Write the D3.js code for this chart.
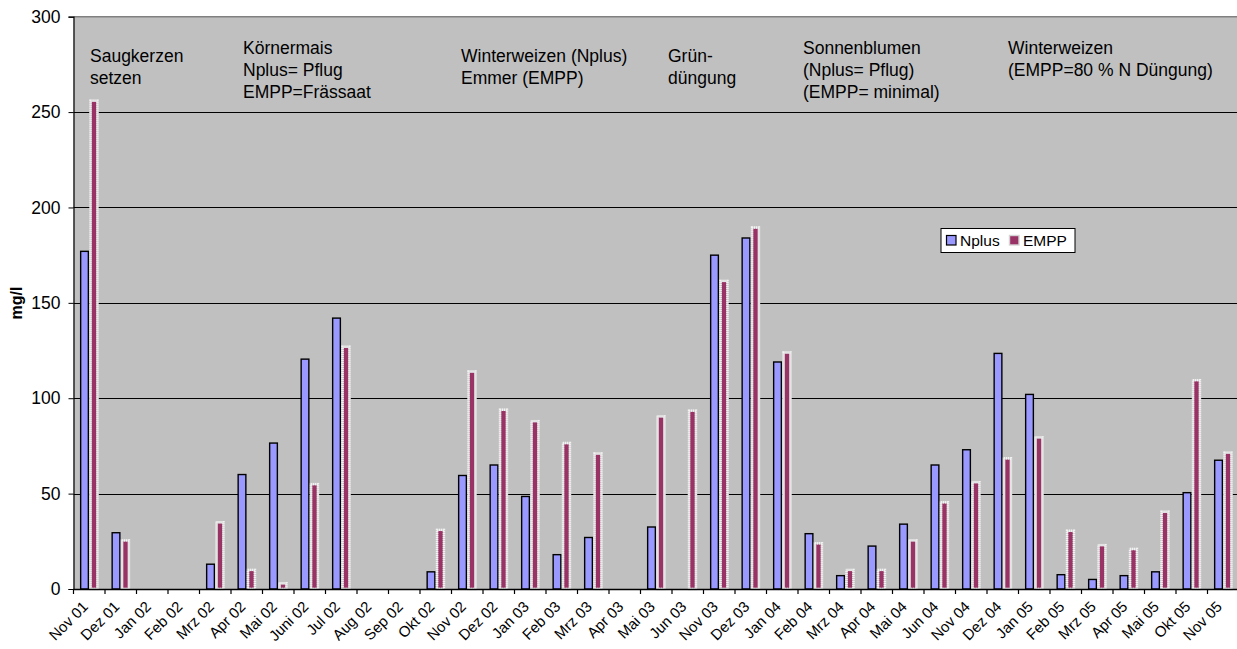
<!DOCTYPE html>
<html>
<head>
<meta charset="utf-8">
<script src="https://cdn.jsdelivr.net/npm/d3@7"></script>
<style>
  html, body { margin: 0; padding: 0; background: #fff; }
  svg { display: block; font-family: "Liberation Sans", Arial, sans-serif; }
</style>
</head>
<body>
<svg id="chart" width="1237" height="649"></svg>
<script>
// Sampling dates (Nitrate in seepage water, mg/l)
const categories = [
  "Nov 01","Dez 01","Jan 02","Feb 02","Mrz 02","Apr 02","Mai 02","Juni 02","Jul 02",
  "Aug 02","Sep 02","Okt 02","Nov 02","Dez 02","Jan 03","Feb 03","Mrz 03","Apr 03",
  "Mai 03","Jun 03","Nov 03","Dez 03","Jan 04","Feb 04","Mrz 04","Apr 04","Mai 04",
  "Jun 04","Nov 04","Dez 04","Jan 05","Feb 05","Mrz 05","Apr 05","Mai 05","Okt 05","Nov 05"
];
const seriesNames = ["Nplus", "EMPP"];
const nplus = [
  177, 29.5, null, null, 13, 60, 76.5, 120.5, 142,
  null, null, 9, 59.5, 65, 48.5, 18, 27, null,
  32.5, null, 175, 184, 119, 29, 7, 22.5, 34,
  65, 73, 123.5, 102, 7.5, 5, 7, 9, 50.5, 67.5
];
const empp = [
  256, 25.5, null, null, 35, 10, 3, 55, 127,
  null, null, 31, 114, 94, 88, 76.5, 71, null,
  90.5, 93.5, 161.5, 189.5, 124, 24, 10, 10, 25.5,
  45.5, 56, 68.5, 79.5, 30.5, 23, 21, 40.5, 109.5, 71.5
];
const yTicks = [0, 50, 100, 150, 200, 250, 300];

// Crop notes written inside the plot
const notes = [
  { x: 90,   y: 62, lines: ["Saugkerzen", "setzen"] },
  { x: 243,  y: 54, lines: ["Körnermais", "Nplus= Pflug", "EMPP=Frässaat"] },
  { x: 461,  y: 62, lines: ["Winterweizen (Nplus)", "Emmer (EMPP)"] },
  { x: 668,  y: 62, lines: ["Grün-", "düngung"] },
  { x: 803,  y: 54, lines: ["Sonnenblumen", "(Nplus= Pflug)", "(EMPP= minimal)"] },
  { x: 1008, y: 54, lines: ["Winterweizen", "(EMPP=80 % N Düngung)"] }
];

const svg = d3.select("#chart");
const plotLeft = 73.5, plotTop = 16.7, plotBottom = 589;
const step = 31.5;
const plotRight = plotLeft + step * categories.length;

const x0 = d3.scaleBand().domain(categories).range([plotLeft, plotRight]).padding(0);
const y = d3.scaleLinear().domain([0, 300]).range([plotBottom, plotTop]);
const bw = x0.bandwidth();
const x1 = d3.scaleBand().domain(seriesNames).range([bw / 2 - 9.2, bw / 2 + 9.2]).paddingInner(0.06);

// plot area
svg.append("rect")
  .attr("x", plotLeft).attr("y", plotTop)
  .attr("width", plotRight - plotLeft).attr("height", plotBottom - plotTop)
  .attr("fill", "#c0c0c0");

// horizontal gridlines
svg.append("g").selectAll("line")
  .data(yTicks.filter(t => t > 0 && t < 300))
  .join("line")
  .attr("x1", plotLeft).attr("x2", plotRight)
  .attr("y1", d => Math.round(y(d)) + 0.5).attr("y2", d => Math.round(y(d)) + 0.5)
  .attr("stroke", "#000").attr("stroke-width", 1);

// top border of the plot area
svg.append("line")
  .attr("x1", plotLeft).attr("x2", plotRight)
  .attr("y1", plotTop).attr("y2", plotTop)
  .attr("stroke", "#808080").attr("stroke-width", 1.6);

// bars
const rows = categories.map((c, i) => ({ c, Nplus: nplus[i], EMPP: empp[i] }));
const groups = svg.append("g").selectAll("g")
  .data(rows).join("g")
  .attr("transform", d => `translate(${x0(d.c)},0)`);

groups.filter(d => d.Nplus != null).append("rect")
  .attr("x", x1("Nplus") + 0.6)
  .attr("width", x1.bandwidth() - 1.2)
  .attr("y", d => y(d.Nplus))
  .attr("height", d => plotBottom - y(d.Nplus))
  .attr("fill", "#9999ff")
  .attr("stroke", "#000").attr("stroke-width", 1.4);

const emppBars = groups.filter(d => d.EMPP != null);
emppBars.append("rect")
  .attr("x", x1("EMPP") + 1)
  .attr("width", x1.bandwidth() - 2)
  .attr("y", d => y(d.EMPP))
  .attr("height", d => plotBottom - y(d.EMPP))
  .attr("fill", "#993366")
  .attr("stroke", "#d4d4d4").attr("stroke-width", 2.4);
emppBars.append("rect")
  .attr("x", x1("EMPP") + 1)
  .attr("width", x1.bandwidth() - 2)
  .attr("y", d => y(d.EMPP))
  .attr("height", d => plotBottom - y(d.EMPP))
  .attr("fill", "none")
  .attr("stroke", "#f2f2f2").attr("stroke-width", 2.4)
  .attr("stroke-dasharray", "1,1");

// y axis
const yAxis = svg.append("g")
  .attr("transform", `translate(${plotLeft},0)`)
  .call(d3.axisLeft(y).tickValues(yTicks).tickSize(5).tickPadding(8));
yAxis.select(".domain").attr("stroke", "#000").attr("stroke-width", 1.2);
yAxis.selectAll(".tick line").attr("stroke", "#000");
yAxis.selectAll(".tick text")
  .attr("font-size", "17.5px").attr("fill", "#000")
  .attr("font-family", "Liberation Sans, Arial, sans-serif");

// x axis with ticks between categories
const xAxis = svg.append("g").attr("transform", `translate(0,${plotBottom})`);
xAxis.append("line")
  .attr("x1", plotLeft).attr("x2", plotRight).attr("y1", 0.5).attr("y2", 0.5)
  .attr("stroke", "#000").attr("stroke-width", 1.3);
xAxis.selectAll("line.tk")
  .data(categories).join("line").attr("class", "tk")
  .attr("x1", d => x0(d)).attr("x2", d => x0(d))
  .attr("y1", 0).attr("y2", 5)
  .attr("stroke", "#000").attr("stroke-width", 1.2);
xAxis.selectAll("text")
  .data(categories).join("text")
  .attr("transform", d => `translate(${x0(d) + bw / 2 - 4},${15}) rotate(-45)`)
  .attr("text-anchor", "end")
  .attr("dy", "0.35em")
  .attr("font-size", "15px")
  .attr("fill", "#000")
  .text(d => d);

// y axis title
svg.append("text")
  .attr("transform", `translate(22,303) rotate(-90)`)
  .attr("text-anchor", "middle")
  .attr("font-size", "16px").attr("font-weight", "bold")
  .text("mg/l");

// crop notes
const noteSel = svg.append("g").selectAll("text")
  .data(notes).join("text")
  .attr("font-size", "17.5px").attr("fill", "#000");
noteSel.selectAll("tspan")
  .data(d => d.lines.map((t, i) => ({ t, i, x: d.x, y: d.y })))
  .join("tspan")
  .attr("x", d => d.x)
  .attr("y", d => d.y + d.i * 21.8)
  .text(d => d.t);

// legend
const lg = svg.append("g").attr("transform", "translate(941,228.5)");
lg.append("rect").attr("width", 134).attr("height", 24)
  .attr("fill", "#fff").attr("stroke", "#000").attr("stroke-width", 1);
lg.append("rect").attr("x", 5.5).attr("y", 7).attr("width", 9.5).attr("height", 9.5)
  .attr("fill", "#9999ff").attr("stroke", "#000").attr("stroke-width", 1.2);
lg.append("text").attr("x", 19).attr("y", 17.5).attr("font-size", "15.5px").text(seriesNames[0]);
lg.append("rect").attr("x", 68.5).attr("y", 7).attr("width", 9.5).attr("height", 9.5)
  .attr("fill", "#993366").attr("stroke", "#d4d4d4").attr("stroke-width", 1.4);
lg.append("text").attr("x", 82).attr("y", 17.5).attr("font-size", "15.5px").text(seriesNames[1]);
</script>
</body>
</html>
